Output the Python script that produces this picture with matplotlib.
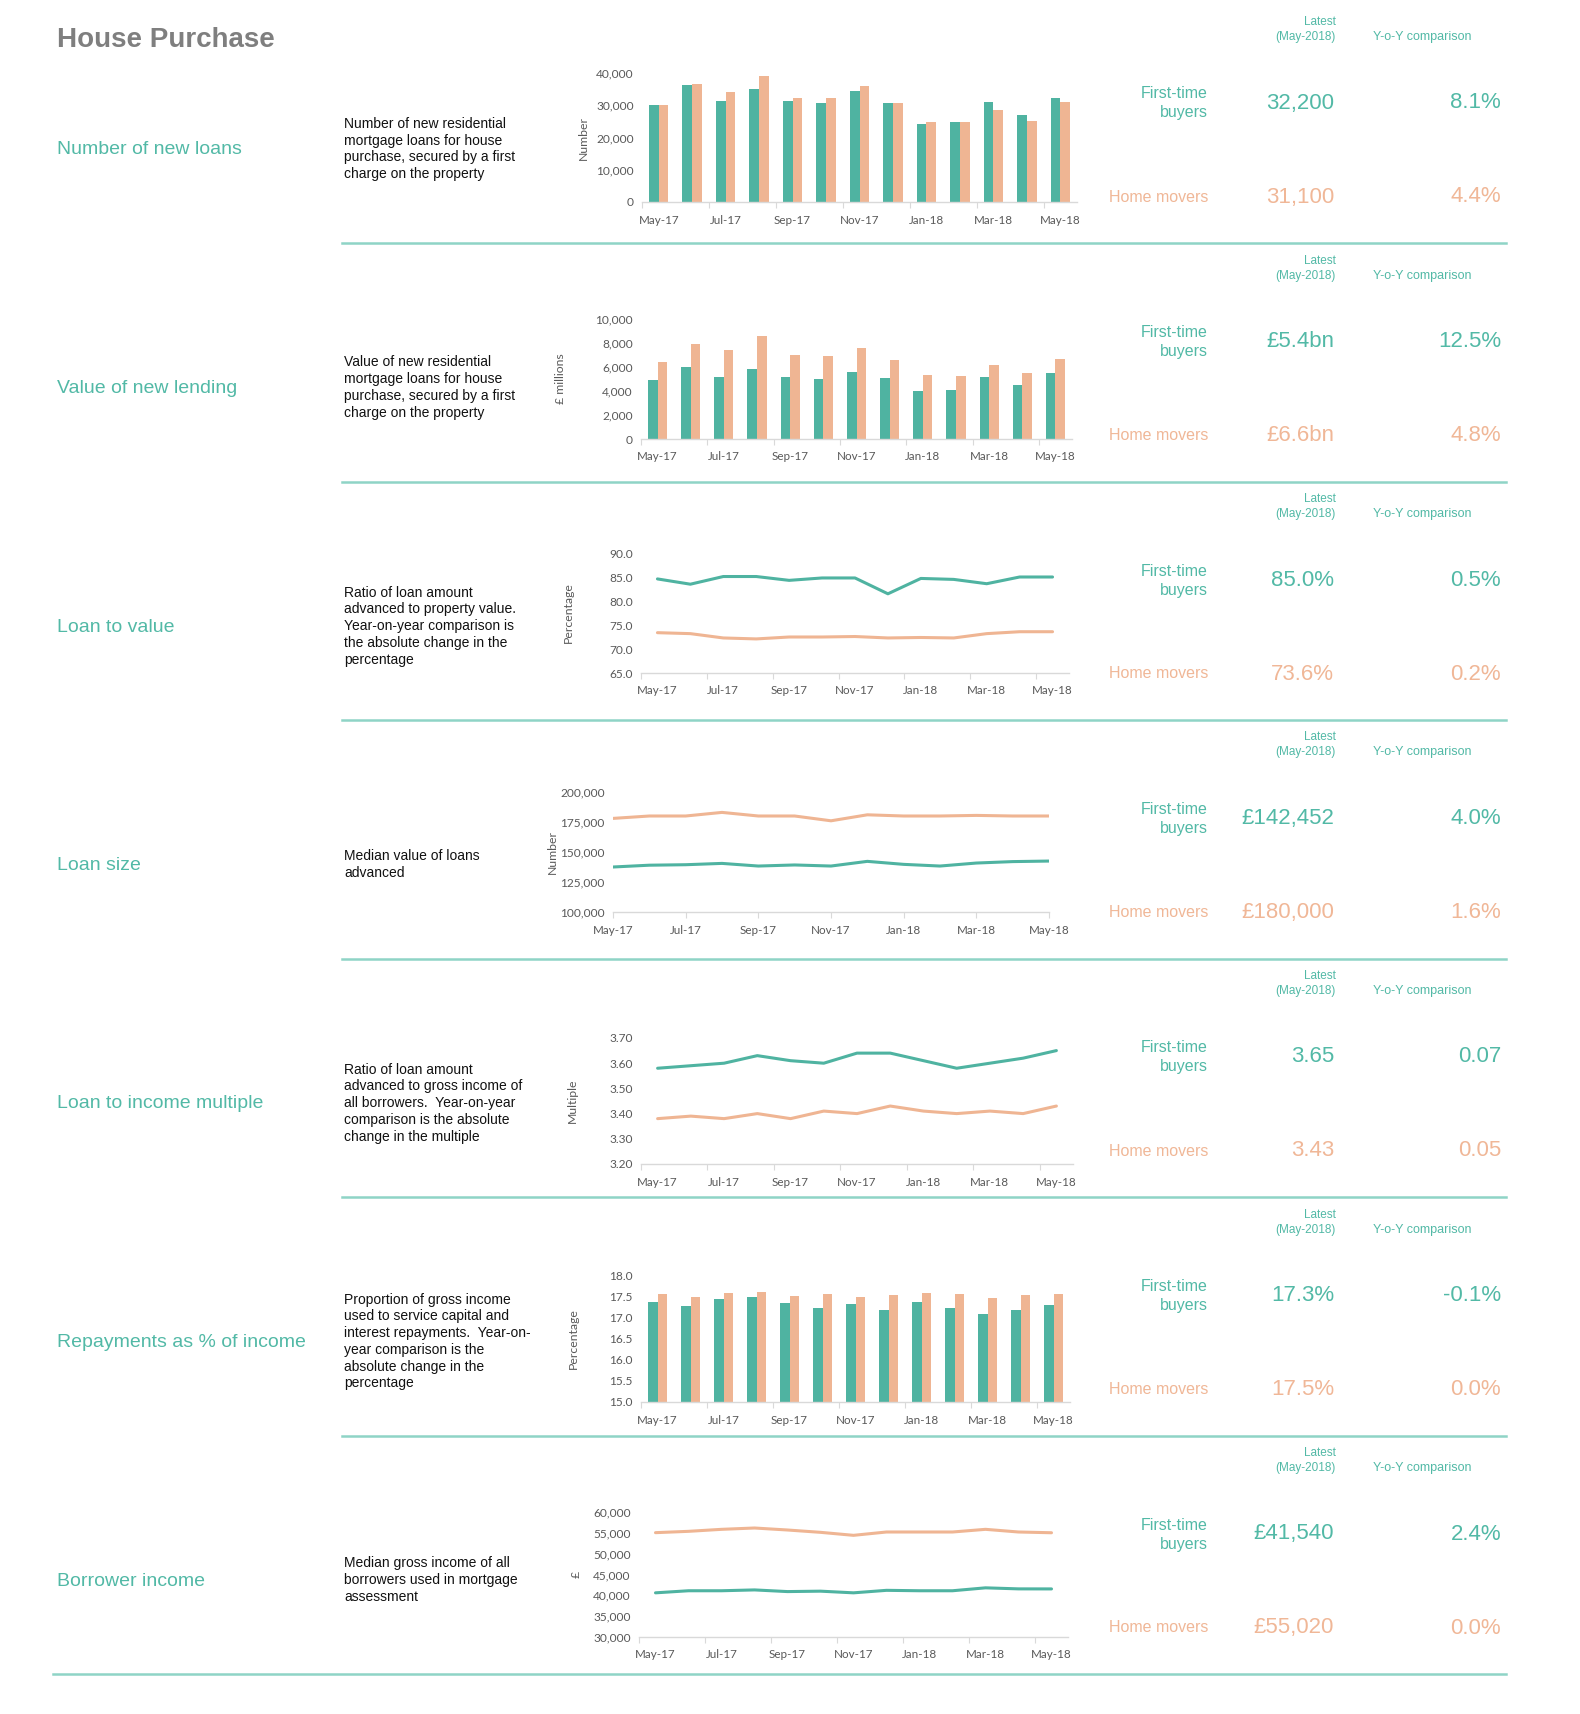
import matplotlib
matplotlib.use("Agg")
import matplotlib.pyplot as plt
from matplotlib.ticker import FuncFormatter
from matplotlib.lines import Line2D

W, H = 1580, 1714
TEAL = '#4fb3a1'
ORANGE = '#efb593'
TEAL_TXT = '#52b9a6'
ORANGE_TXT = '#f0b797'
SEP = '#8fd4c6'
TICK = '#595959'

months = ['May-17', 'Jun-17', 'Jul-17', 'Aug-17', 'Sep-17', 'Oct-17', 'Nov-17',
          'Dec-17', 'Jan-18', 'Feb-18', 'Mar-18', 'Apr-18', 'May-18']

# series (first-time buyers / home movers)
loans_ftb = [30000, 36400, 31300, 34900, 31300, 30600, 34400, 30600, 24100, 24900, 31100, 26900, 32200]
loans_hm = [30000, 36700, 34100, 39100, 32300, 32200, 36000, 30600, 24900, 24700, 28400, 25100, 31100]
value_ftb = [4890, 5970, 5170, 5860, 5170, 4970, 5560, 5080, 3970, 4080, 5170, 4470, 5470]
value_hm = [6390, 7890, 7390, 8580, 6970, 6890, 7580, 6580, 5360, 5280, 6170, 5470, 6690]
ltv_ftb = [84.6, 83.5, 85.1, 85.1, 84.3, 84.8, 84.8, 81.5, 84.7, 84.5, 83.6, 85.0, 85.0]
ltv_hm = [73.4, 73.2, 72.3, 72.1, 72.5, 72.5, 72.6, 72.3, 72.4, 72.3, 73.2, 73.6, 73.6]
size_ftb = [137500, 139000, 139400, 140500, 138300, 139200, 138300, 142200, 139700, 138300, 140800, 142000, 142452]
size_hm = [178000, 180000, 180000, 183000, 180000, 180000, 176000, 181000, 180000, 180000, 180500, 180000, 180000]
lti_ftb = [3.58, 3.59, 3.60, 3.63, 3.61, 3.60, 3.64, 3.64, 3.61, 3.58, 3.60, 3.62, 3.65]
lti_hm = [3.38, 3.39, 3.38, 3.40, 3.38, 3.41, 3.40, 3.43, 3.41, 3.40, 3.41, 3.40, 3.43]
rep_ftb = [17.36, 17.27, 17.44, 17.49, 17.34, 17.23, 17.32, 17.17, 17.37, 17.22, 17.07, 17.17, 17.30]
rep_hm = [17.56, 17.49, 17.58, 17.60, 17.50, 17.54, 17.49, 17.52, 17.57, 17.55, 17.45, 17.52, 17.55]
inc_ftb = [40600, 41100, 41100, 41300, 40900, 41000, 40600, 41200, 41100, 41100, 41800, 41550, 41540]
inc_hm = [55040, 55360, 55840, 56160, 55680, 55120, 54400, 55200, 55200, 55200, 55840, 55200, 55020]

sections = ['Number of new loans', 'Value of new lending', 'Loan to value', 'Loan size',
            'Loan to income multiple', 'Repayments as % of income', 'Borrower income']
descriptions = [
    'Number of new residential\nmortgage loans for house\npurchase, secured by a first\ncharge on the property',
    'Value of new residential\nmortgage loans for house\npurchase, secured by a first\ncharge on the property',
    'Ratio of loan amount\nadvanced to property value.\nYear-on-year comparison is\nthe absolute change in the\npercentage',
    'Median value of loans\nadvanced',
    'Ratio of loan amount\nadvanced to gross income of\nall borrowers.  Year-on-year\ncomparison is the absolute\nchange in the multiple',
    'Proportion of gross income\nused to service capital and\ninterest repayments.  Year-on-\nyear comparison is the\nabsolute change in the\npercentage',
    'Median gross income of all\nborrowers used in mortgage\nassessment',
]
ylabels = ['Number', '£ millions', 'Percentage', 'Number', 'Multiple', 'Percentage', '£']
latest_ftb = ['32,200', '£5.4bn', '85.0%', '£142,452', '3.65', '17.3%', '£41,540']
latest_hm = ['31,100', '£6.6bn', '73.6%', '£180,000', '3.43', '17.5%', '£55,020']
yoy_ftb = ['8.1%', '12.5%', '0.5%', '4.0%', '0.07', '-0.1%', '2.4%']
yoy_hm = ['4.4%', '4.8%', '0.2%', '1.6%', '0.05', '0.0%', '0.0%']

series = [(loans_ftb, loans_hm), (value_ftb, value_hm), (ltv_ftb, ltv_hm), (size_ftb, size_hm),
          (lti_ftb, lti_hm), (rep_ftb, rep_hm), (inc_ftb, inc_hm)]
kinds = ['bar', 'bar', 'line', 'line_edge', 'line', 'bar', 'line']
yranges = [(0, 40000, 10000), (0, 10000, 2000), (65, 90, 5), (100000, 200000, 25000),
           (3.2, 3.7, 0.1), (15, 18, 0.5), (30000, 60000, 5000)]
yfmt = ['{:,.0f}', '{:,.0f}', '{:.1f}', '{:,.0f}', '{:.2f}', '{:.1f}', '{:,.0f}']

# pixel boxes of the plot areas: left, right, top (ymax), bottom (ymin), ylabel x
boxes = [(642, 1077, 73, 202, 583), (641, 1072, 319, 439, 560), (641, 1069, 553, 673, 568),
         (613, 1049, 792, 912, 552), (641, 1073, 1038, 1164, 572), (641, 1070, 1275, 1402, 573),
         (639, 1068, 1512, 1637, 576)]

ROW = 238.5
TXT = ['Liberation Sans', 'DejaVu Sans']
CHART = ['Lato', 'DejaVu Sans']

fig = plt.figure(figsize=(W / 100, H / 100), dpi=100)
fig.patch.set_facecolor('white')


def fx(x):
    return x / W


def fy(y):
    return 1 - y / H


def ftext(x, y, s, **kw):
    kw.setdefault('family', TXT)
    fig.text(fx(x), fy(y), s, **kw)


ftext(57, 40, 'House Purchase', fontsize=20, fontweight='bold', color='#7f7f7f', va='center')

for i in range(7):
    off = ROW * i
    ftext(1336, 22 + off, 'Latest', fontsize=8.5, color=TEAL_TXT, ha='right', va='center')
    ftext(1336, 37 + off, '(May-2018)', fontsize=8.5, color=TEAL_TXT, ha='right', va='center')
    ftext(1373, 37 + off, 'Y-o-Y comparison', fontsize=9, color=TEAL_TXT, ha='left', va='center')
    ftext(1208, 94 + off, 'First-time', fontsize=11.5, color=TEAL_TXT, ha='right', va='center')
    ftext(1208, 113 + off, 'buyers', fontsize=11.5, color=TEAL_TXT, ha='right', va='center')
    ftext(1208, 197 + off, 'Home movers', fontsize=11.5, color=ORANGE_TXT, ha='right', va='center')
    ftext(1334, 103 + off, latest_ftb[i], fontsize=16, color=TEAL_TXT, ha='right', va='center')
    ftext(1501, 103 + off, yoy_ftb[i], fontsize=16, color=TEAL_TXT, ha='right', va='center')
    ftext(1334, 197 + off, latest_hm[i], fontsize=16, color=ORANGE_TXT, ha='right', va='center')
    ftext(1501, 197 + off, yoy_hm[i], fontsize=16, color=ORANGE_TXT, ha='right', va='center')

    ftext(57, 150 + off, sections[i], fontsize=14, color=TEAL_TXT, va='center')
    ftext(344, 149 + off, descriptions[i], fontsize=10, color='#111111', va='center',
          linespacing=1.25)

    # separator
    x0 = 53 if i == 6 else 342
    ysep = 243 + off
    fig.add_artist(Line2D([fx(x0), fx(1506)], [fy(ysep), fy(ysep)], color=SEP, lw=1.8,
                          transform=fig.transFigure))

    # chart
    left, right, top, bottom, ylx = boxes[i]
    ax = fig.add_axes([fx(left), fy(bottom), (right - left) / W, (bottom - top) / H])
    ftb, hm = series[i]
    lo, hi, step = yranges[i]
    xs = list(range(len(months)))
    if kinds[i] == 'bar':
        bw = 0.29
        ax.bar([x - bw / 2 for x in xs], [v - lo for v in ftb], bw, bottom=lo, color=TEAL)
        ax.bar([x + bw / 2 for x in xs], [v - lo for v in hm], bw, bottom=lo, color=ORANGE)
    else:
        ax.plot(xs, hm, color=ORANGE, lw=2.2, solid_capstyle='round')
        ax.plot(xs, ftb, color=TEAL, lw=2.2, solid_capstyle='round')
    if kinds[i] == 'line_edge':
        ax.set_xlim(0, 12)
        ax.set_xticks(xs[::2])
        ax.set_xticklabels(months[::2])
    else:
        ax.set_xlim(-0.5, 12.5)
        ax.set_xticks([x - 0.5 for x in xs[::2]])
        ax.set_xticklabels([])
        ax.set_xticks(xs[::2], minor=True)
        ax.set_xticklabels(months[::2], minor=True)
    ax.set_ylim(lo, hi)
    nt = int(round((hi - lo) / step))
    ticks = [lo + k * step for k in range(nt + 1)]
    ax.set_yticks(ticks)
    f = yfmt[i]
    ax.yaxis.set_major_formatter(FuncFormatter(lambda v, p, f=f: f.format(v)))
    for s in ['top', 'right', 'left']:
        ax.spines[s].set_visible(False)
    ax.spines['bottom'].set_color('#d9d9d9')
    ax.spines['bottom'].set_linewidth(1.0)
    ax.tick_params(axis='y', length=0, pad=6, labelsize=8.6, labelcolor=TICK)
    ax.tick_params(axis='x', which='both', colors='#d9d9d9', labelcolor=TICK, labelsize=8.4,
                   length=4, pad=5)
    ax.tick_params(axis='x', which='minor', length=0, pad=9)
    for lab in ax.get_xticklabels(minor=True) + ax.get_xticklabels() + ax.get_yticklabels():
        lab.set_family(CHART)
    ax.set_facecolor('none')
    ftext(ylx, (top + bottom) / 2, ylabels[i], fontsize=8.8, color=TICK, rotation=90,
          ha='center', va='center', family=CHART)

fig.savefig('out.png', dpi=100, facecolor='white')
